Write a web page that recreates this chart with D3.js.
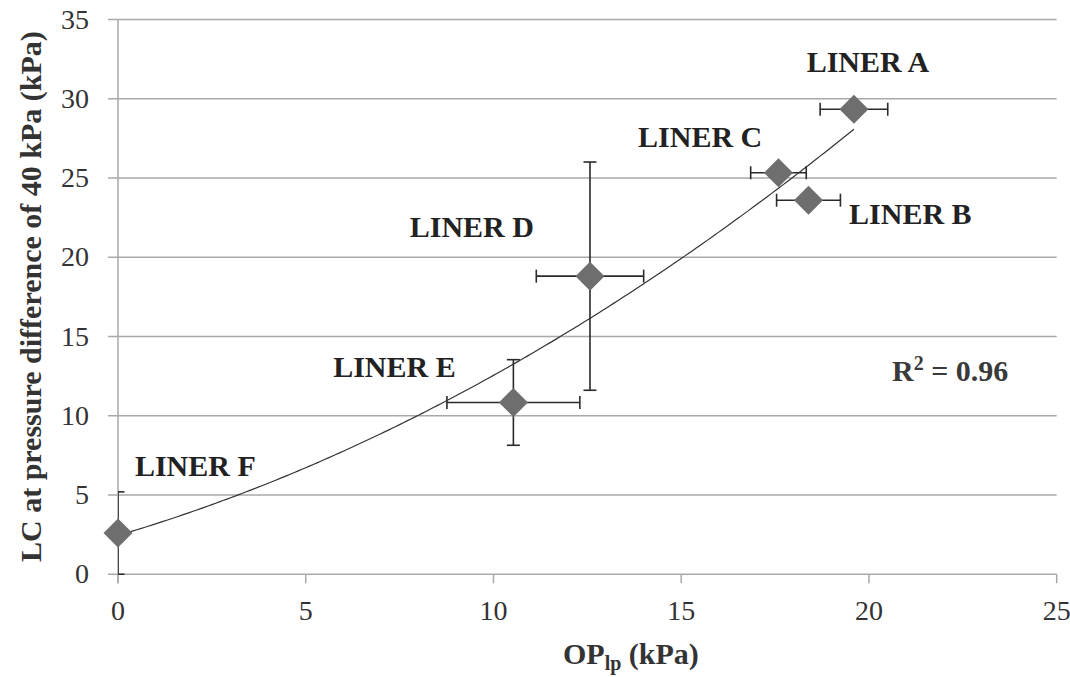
<!DOCTYPE html>
<html>
<head>
<meta charset="utf-8">
<script src="https://cdn.jsdelivr.net/npm/d3@7"></script>
<style>
  html, body { margin: 0; padding: 0; background: #fff; }
  svg { display: block; font-family: "Liberation Serif", "Times New Roman", serif; }
</style>
</head>
<body>
<svg id="chart" width="1070" height="677"></svg>
<script>
// ---- data ----
const liners = ["LINER A", "LINER B", "LINER C", "LINER D", "LINER E", "LINER F"];
const opValues = [19.6, 18.39, 17.59, 12.57, 10.53, 0];      // x (kPa)
const lcValues = [29.34, 23.6, 25.33, 18.81, 10.84, 2.6];     // y (kPa)
const opErrors = [0.9, 0.85, 0.74, 1.43, 1.77, 0];            // ± x
const lcErrors = [0, 0, 0, 7.2, 2.7, 2.6];                    // ± y
const xTicks = [0, 5, 10, 15, 20, 25];
const yTicks = [0, 5, 10, 15, 20, 25, 30, 35];
const trendCoefs = [2.45, 0.70, 0.031];                       // polynomial trend line (order 2)
const rSquaredLabel = "0.96";

// label anchor positions (data units for text placement)
const labelPos = [
  [18.34, 31.67], [19.47, 22.1], [13.85, 26.98], [7.77, 21.26], [5.73, 12.45], [0.45, 6.2]
];

// ---- layout ----
const svg = d3.select("#chart");
const x = d3.scaleLinear().domain([0, 25]).range([118, 1056.7]);
const y = d3.scaleLinear().domain([0, 35]).range([574.3, 19.5]);

const gridColor = "#a9a9a9";

// gridlines + y ticks
svg.append("g").selectAll("line").data(yTicks.filter(d => d > 0)).join("line")
  .attr("x1", 108).attr("x2", x(25))
  .attr("y1", d => y(d)).attr("y2", d => y(d))
  .attr("stroke", gridColor).attr("stroke-width", 1.5);

// x axis line
svg.append("line").attr("x1", 108).attr("x2", x(25))
  .attr("y1", y(0)).attr("y2", y(0)).attr("stroke", gridColor).attr("stroke-width", 1.5);
// y axis line
svg.append("line").attr("x1", x(0)).attr("x2", x(0))
  .attr("y1", y(35)).attr("y2", y(0) + 9).attr("stroke", gridColor).attr("stroke-width", 1.5);
// x ticks
svg.append("g").selectAll("line").data(xTicks).join("line")
  .attr("x1", d => x(d)).attr("x2", d => x(d))
  .attr("y1", y(0)).attr("y2", y(0) + 9)
  .attr("stroke", gridColor).attr("stroke-width", 1.5);

// tick labels
svg.append("g").selectAll("text").data(yTicks).join("text")
  .attr("x", 89).attr("y", d => y(d) + 9)
  .attr("text-anchor", "end").attr("font-size", 28).attr("fill", "#333")
  .text(d => d);
svg.append("g").selectAll("text").data(xTicks).join("text")
  .attr("x", d => x(d)).attr("y", 620)
  .attr("text-anchor", "middle").attr("font-size", 28).attr("fill", "#333")
  .text(d => d);

// axis titles
const xt = svg.append("text").attr("x", 563).attr("y", 664)
  .attr("font-size", 30).attr("font-weight", "bold").attr("fill", "#333");
xt.append("tspan").text("OP");
xt.append("tspan").attr("font-size", 20).attr("dy", 6).text("lp");
xt.append("tspan").attr("dy", -6).text(" (kPa)");

svg.append("text")
  .attr("transform", "translate(41,562) rotate(-90)")
  .attr("font-size", 30).attr("font-weight", "bold").attr("fill", "#333")
  .text("LC at pressure difference of 40 kPa (kPa)");

// clip for error bars
svg.append("clipPath").attr("id", "plotclip").append("rect")
  .attr("x", x(0)).attr("y", 0).attr("width", x(25) - x(0) + 10).attr("height", y(0) + 2);

// trend line
const trendX = d3.range(0, d3.max(opValues) + 0.001, 0.1);
const poly = v => trendCoefs[0] + trendCoefs[1] * v + trendCoefs[2] * v * v;
svg.append("path")
  .datum(trendX)
  .attr("d", d3.line().x(d => x(d)).y(d => y(poly(d))))
  .attr("fill", "none").attr("stroke", "#333").attr("stroke-width", 1.2);

// error bars
const eb = svg.append("g").attr("clip-path", "url(#plotclip)")
  .attr("stroke", "#2a2a2a").attr("stroke-width", 1.6).attr("fill", "none");
const capH = 6.5;
opValues.forEach((xv, i) => {
  const yv = lcValues[i];
  if (opErrors[i] > 0) {
    const x1 = x(xv - opErrors[i]), x2 = x(xv + opErrors[i]), yy = y(yv);
    eb.append("line").attr("x1", x1).attr("x2", x2).attr("y1", yy).attr("y2", yy);
    eb.append("line").attr("x1", x1).attr("x2", x1).attr("y1", yy - capH).attr("y2", yy + capH);
    eb.append("line").attr("x1", x2).attr("x2", x2).attr("y1", yy - capH).attr("y2", yy + capH);
  }
  if (lcErrors[i] > 0) {
    const y1 = y(yv - lcErrors[i]), y2 = y(yv + lcErrors[i]), xx = x(xv);
    eb.append("line").attr("x1", xx).attr("x2", xx).attr("y1", y1).attr("y2", y2);
    eb.append("line").attr("x1", xx - capH).attr("x2", xx + capH).attr("y1", y1).attr("y2", y1);
    eb.append("line").attr("x1", xx - capH).attr("x2", xx + capH).attr("y1", y2).attr("y2", y2);
  }
});

// diamonds
const r = 14.5;
svg.append("g").selectAll("path").data(opValues.map((v, i) => [v, lcValues[i]])).join("path")
  .attr("d", d => {
    const cx = x(d[0]), cy = y(d[1]);
    return `M${cx},${cy - r}L${cx + r},${cy}L${cx},${cy + r}L${cx - r},${cy}Z`;
  })
  .attr("fill", "#6e6e6e");

// liner labels
svg.append("g").selectAll("text").data(liners).join("text")
  .attr("x", (d, i) => x(labelPos[i][0]))
  .attr("y", (d, i) => y(labelPos[i][1]))
  .attr("font-size", 30).attr("font-weight", "bold").attr("fill", "#222")
  .text(d => d);

// R² label
const rt = svg.append("text").attr("x", 892).attr("y", 381)
  .attr("font-size", 30).attr("font-weight", "bold").attr("fill", "#3a3a3a");
rt.append("tspan").text("R");
rt.append("tspan").attr("font-size", 20).attr("dy", -11).text("2");
rt.append("tspan").attr("dy", 11).text(" = " + rSquaredLabel);
</script>
</body>
</html>
